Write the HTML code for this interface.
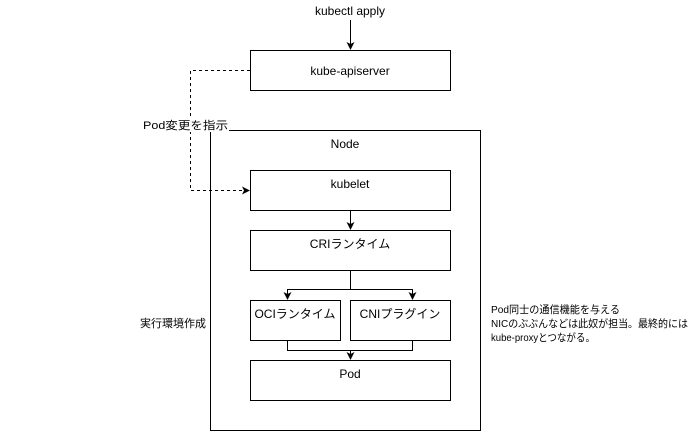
<!DOCTYPE html>
<html><head><meta charset="utf-8"><style>
body{margin:0;width:693px;height:431px;background:#fff;overflow:hidden}
svg text{font-family:"Liberation Sans","Noto Sans CJK JP",sans-serif;font-size:12px;fill:#000}
</style></head><body>
<svg width="693" height="431" xmlns="http://www.w3.org/2000/svg">
<defs><marker id="a" markerWidth="8" markerHeight="8" refX="7" refY="4" orient="auto" markerUnits="userSpaceOnUse"><path d="M0,0 L8,4 L0,8 L2,4z" fill="#000"/></marker></defs>
<g fill="#fff" stroke="#000">
<rect x="210.5" y="130.5" width="270" height="300"/>
<rect x="250.5" y="50.5" width="200" height="40"/>
<rect x="250.5" y="170.5" width="200" height="40"/>
<rect x="250.5" y="230.5" width="200" height="40"/>
<rect x="250.5" y="300.5" width="90" height="40"/>
<rect x="350.5" y="300.5" width="100" height="40"/>
<rect x="250.5" y="360.5" width="200" height="40"/>
</g>
<g fill="none" stroke="#000">
<path d="M350.5 20V49" marker-end="url(#a)"/>
<path d="M350.5 211V229" marker-end="url(#a)"/>
<path d="M350.5 271V289.5H287.5V299" marker-end="url(#a)"/>
<path d="M350.5 289.5H412.5V299" marker-end="url(#a)"/>
<path d="M287.5 341V350.5H412.5V341M350.5 350.5V359" marker-end="url(#a)"/>
<path d="M250 70.5H190.5V190.5H249" stroke-dasharray="3,3" marker-end="url(#a)"/>
</g>
<rect x="142" y="118" width="87" height="14" fill="#fff"/>
<text x="143" y="129" textLength="85" lengthAdjust="spacingAndGlyphs" style="font-size:11px">Pod変更を指示</text>
<text x="350" y="15" text-anchor="middle">kubectl apply</text>
<text x="350" y="75" text-anchor="middle">kube-apiserver</text>
<text x="345" y="148" text-anchor="middle">Node</text>
<text x="350" y="188" text-anchor="middle">kubelet</text>
<text x="350" y="248" text-anchor="middle">CRIランタイム</text>
<text x="295" y="318" text-anchor="middle">OCIランタイム</text>
<text x="400" y="318" text-anchor="middle">CNIプラグイン</text>
<text x="350" y="378" text-anchor="middle">Pod</text>
<text x="140" y="327" style="font-size:11px">実行環境作成</text>
<text x="491" y="313" textLength="129" lengthAdjust="spacingAndGlyphs" style="font-size:10.5px">Pod同士の通信機能を与える</text>
<text x="491" y="327" textLength="197" lengthAdjust="spacingAndGlyphs" style="font-size:10.5px">NICのぶぶんなどは此奴が担当。最終的には</text>
<text x="491" y="341" textLength="104" lengthAdjust="spacingAndGlyphs" style="font-size:10.5px">kube-proxyとつながる。</text>
</svg>
</body></html>
